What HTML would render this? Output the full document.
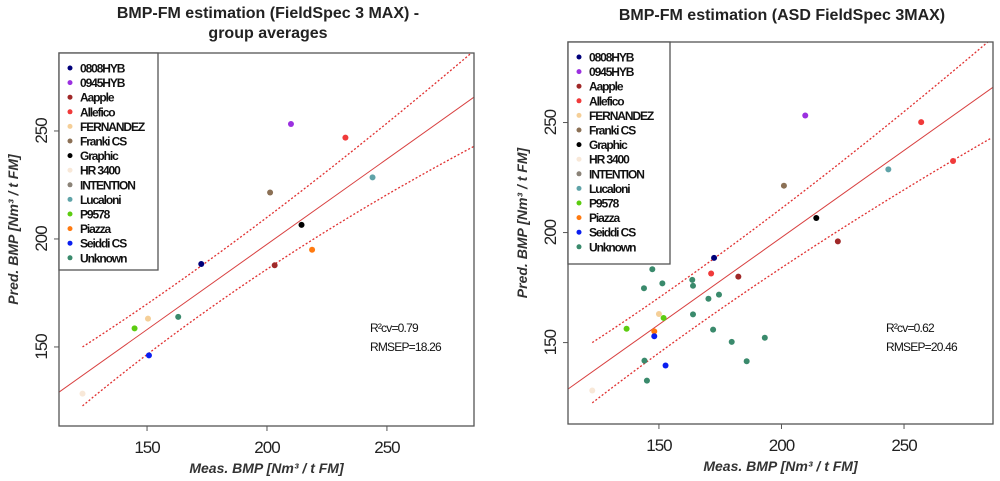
<!DOCTYPE html>
<html><head><meta charset="utf-8"><style>
html,body{margin:0;padding:0;background:#fff;width:1000px;height:481px;overflow:hidden}
svg{display:block;font-family:"Liberation Sans",Arial,sans-serif}
</style></head><body>
<svg id="chart" width="1000" height="481" viewBox="0 0 1000 481" xmlns="http://www.w3.org/2000/svg"></svg>
<script>
const legendNames = ["0808HYB","0945HYB","Aapple","Allefico","FERNANDEZ","Franki CS","Graphic","HR 3400","INTENTION","Lucaloni","P9578","Piazza","Seiddi CS","Unknown"];
const legendColors = ["#00007a","#9b30e0","#a02828","#f03a3a","#f5cf98","#8b7055","#000000","#f8e8d8","#8b8378","#5fa3a8","#5ccc10","#ff7a10","#0a1ef0","#3a8a6c"];
const xTicks = [150,200,250];
const yTicks = [150,200,250];

// Left panel (group averages): group index, measured, predicted
const leftGroup = [0,1,2,3,4,5,6,7,9,10,11,12,13];
const leftMeas  = [172.6,210,203.2,232.7,150.4,201.3,214.4,123.1,244,144.8,218.8,150.8,163];
const leftPred  = [188.4,253.2,187.8,246.9,163.1,221.5,206.5,128.4,228.5,158.6,195,146.1,163.9];
const leftFit   = [[113.2,129],[287,266.2]];
const leftUpper = [[123.1,150],[200,210],[285.1,286]];
const leftLower = [[123.1,122.7],[200,186],[286.5,243]];
const leftStats = ["R²cv=0.79","RMSEP=18.26"];

// Right panel (all samples)
const rightGroup = [0,1,2,2,3,3,3,4,5,6,7,9,10,10,11,12,12,13,13,13,13,13,13,13,13,13,13,13,13,13,13,13];
const rightMeas  = [172.5,209.7,182.4,223,171.3,257,270,150,201,214.2,122.8,243.6,136.8,151.9,148.1,148.1,152.7,143.2,147.3,151.4,143.9,163.6,163.9,170.2,174.5,163.9,172.1,179.7,193.2,185.8,144.1,145.1];
const rightPred  = [188.5,253.2,180,196,181.4,250.2,232.5,163,221.3,206.6,128.2,228.7,156.3,161.2,155.1,152.9,139.6,189.6,183.3,176.9,174.7,178.5,175.8,169.9,171.8,162.8,155.9,150.3,152.2,141.5,141.8,132.7];
const rightFit   = [[112.8,128.8],[286.5,266.2]];
const rightUpper = [[122.8,150],[200,211],[286.2,288.5]];
const rightLower = [[122.8,122.6],[200,184],[285.8,243.1]];
const rightStats = ["R²cv=0.62","RMSEP=20.46"];

const NS="http://www.w3.org/2000/svg";
const svg=document.getElementById('chart');
function mk(tag,attrs,parent,text){const e=document.createElementNS(NS,tag);for(const k in attrs)e.setAttribute(k,attrs[k]);if(text!==undefined)e.textContent=text;(parent||svg).appendChild(e);return e;}

function panel(cfg){
  const g=mk('g',{});
  
  
  const xs=v=>cfg.x0+(v-cfg.xmin)/(cfg.xmax-cfg.xmin)*(cfg.x1-cfg.x0);
  const ys=v=>cfg.y1-(v-cfg.ymin)/(cfg.ymax-cfg.ymin)*(cfg.y1-cfg.y0);
  const clip='clip-'+cfg.name;
  const cp=mk('clipPath',{id:clip},g);mk('rect',{x:cfg.x0,y:cfg.y0,width:cfg.x1-cfg.x0,height:cfg.y1-cfg.y0},cp);
  cfg.title.forEach((t,i)=>{const e=mk('text',{x:cfg.tx,y:cfg.ty+i*20,'text-anchor':'middle','font-size':'16','font-weight':'bold',fill:'#222'},g,t);
    
    });
  const fit=mk('line',{x1:xs(cfg.fit[0][0]),y1:ys(cfg.fit[0][1]),x2:xs(cfg.fit[1][0]),y2:ys(cfg.fit[1][1]),stroke:'#d84040','stroke-width':1,'clip-path':`url(#${clip})`},g);
  
  
  [cfg.upper,cfg.lower].forEach((b,i)=>{
    const P0=[xs(b[0][0]),ys(b[0][1])],M=[xs(b[1][0]),ys(b[1][1])],P2=[xs(b[2][0]),ys(b[2][1])];
    const C=[2*M[0]-(P0[0]+P2[0])/2,2*M[1]-(P0[1]+P2[1])/2];
    const p=mk('path',{d:`M${P0[0]},${P0[1]} Q${C[0]},${C[1]} ${P2[0]},${P2[1]}`,fill:'none',stroke:'#e03030','stroke-width':1.3,'stroke-dasharray':'2,2','clip-path':`url(#${clip})`},g);
    
    
  });
  cfg.meas.forEach((m,i)=>{
    const c=mk('circle',{cx:xs(m),cy:ys(cfg.pred[i]),r:3,fill:legendColors[cfg.group[i]]},g);
    
    
  });
  const box=mk('rect',{x:cfg.x0,y:cfg.y0,width:cfg.x1-cfg.x0,height:cfg.y1-cfg.y0,fill:'none',stroke:'#555','stroke-width':1.3},g);
  
  
  xTicks.forEach(v=>{mk('line',{x1:xs(v),x2:xs(v),y1:cfg.y1,y2:cfg.y1+5,stroke:'#555'},g);
    const t=mk('text',{x:xs(v),y:cfg.y1+27,'text-anchor':'middle','font-size':'17',fill:'#222','letter-spacing':'-1'},g,v);
    
    });
  yTicks.forEach(v=>{mk('line',{x1:cfg.x0-5,x2:cfg.x0,y1:ys(v),y2:ys(v),stroke:'#555'},g);
    const t=mk('text',{x:cfg.x0-12,y:ys(v),'text-anchor':'middle','font-size':'17',fill:'#222','letter-spacing':'-1',transform:`rotate(-90 ${cfg.x0-12} ${ys(v)})`},g,v);
    
    });
  const xl=mk('text',{x:(cfg.x0+cfg.x1)/2,y:cfg.y1+47,'text-anchor':'middle','font-size':'14','font-style':'italic','font-weight':'bold',fill:'#333'},g,'Meas. BMP [Nm³ / t FM]');
  
  
  const yc=(cfg.y0+cfg.y1)/2-10;
  const yl=mk('text',{x:cfg.x0-41,y:yc,'text-anchor':'middle','font-size':'14','font-style':'italic','font-weight':'bold',fill:'#333',transform:`rotate(-90 ${cfg.x0-41} ${yc})`},g,'Pred. BMP [Nm³ / t FM]');
  
  
  const lg=mk('g',{},g);
  
  
  mk('rect',{x:cfg.x0,y:cfg.y0,width:cfg.lw,height:cfg.lh,fill:'#fff',stroke:'#555','stroke-width':1.3},lg);
  legendNames.forEach((n,i)=>{
    const y=cfg.ly+i*14.6;
    const it=mk('g',{},lg);
    
    
    mk('circle',{cx:cfg.x0+11,cy:y,r:2.5,fill:legendColors[i]},it);
    mk('text',{x:cfg.x0+21,y:y+4.5,'font-size':'12','font-weight':'bold',fill:'#111','letter-spacing':'-1.1'},it,n);
  });
  cfg.stats.forEach((s,i)=>{const t=mk('text',{x:cfg.sx,y:cfg.sy+i*19,'font-size':'12',fill:'#111','letter-spacing':'-0.8'},g,s);
    
    });
}

panel({name:'left-panel',x0:59,x1:474,y0:53,y1:426,xmin:113.3,xmax:286.3,ymin:113.4,ymax:286.1,
  title:['BMP-FM estimation (FieldSpec 3 MAX) -','group averages'],tx:268,ty:18,
  group:leftGroup,meas:leftMeas,pred:leftPred,fit:leftFit,upper:leftUpper,lower:leftLower,
  lw:99,lh:217,ly:68,stats:leftStats,sx:370,sy:332});
panel({name:'right-panel',x0:568,x1:993,y0:42,y1:424,xmin:112.9,xmax:286.3,ymin:113,ymax:286.6,
  title:['BMP-FM estimation (ASD FieldSpec 3MAX)'],tx:782,ty:20,
  group:rightGroup,meas:rightMeas,pred:rightPred,fit:rightFit,upper:rightUpper,lower:rightLower,
  lw:102,lh:222,ly:57,stats:rightStats,sx:886,sy:332});
</script>
</body></html>
